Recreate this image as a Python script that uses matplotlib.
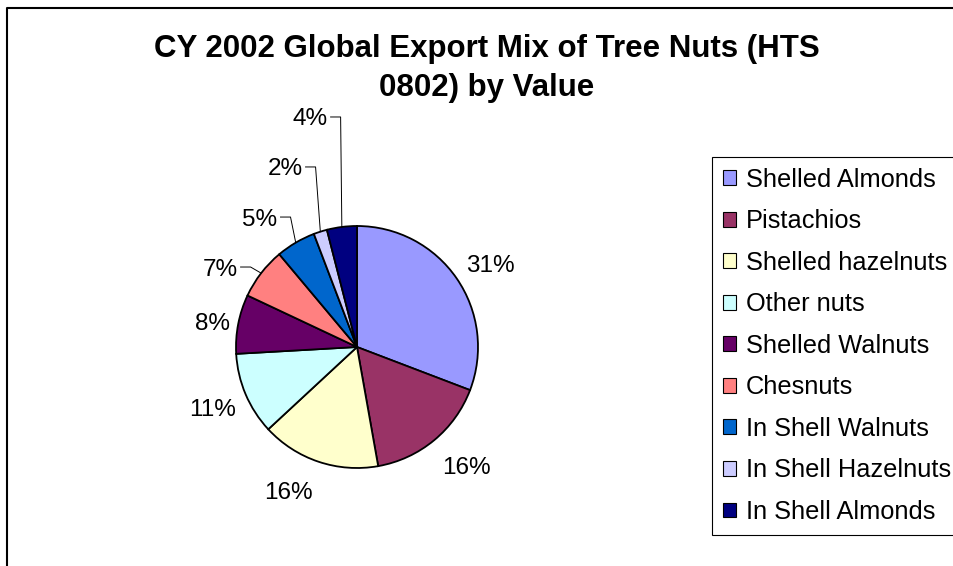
import matplotlib
matplotlib.use("Agg")
import matplotlib.pyplot as plt
from matplotlib.patches import Patch
from matplotlib.lines import Line2D
import numpy as np

# Export mix by value (percent of total), CY 2002, HTS 0802
categories = ["Shelled Almonds", "Pistachios", "Shelled hazelnuts", "Other nuts",
              "Shelled Walnuts", "Chesnuts", "In Shell Walnuts", "In Shell Hazelnuts",
              "In Shell Almonds"]
shares = [30.8, 16.4, 15.9, 11.0, 7.9, 6.9, 5.3, 1.8, 4.0]
title_lines = ["CY 2002 Global Export Mix of Tree Nuts (HTS", "0802) by Value"]

colors = ["#9999FF", "#993366", "#FFFFCC", "#CCFFFF", "#660066",
          "#FF8080", "#0066CC", "#CCCCFF", "#000080"]

plt.rcParams['font.family'] = ['Liberation Sans', 'DejaVu Sans']

W, H, DPI = 954, 566, 100
fig = plt.figure(figsize=(W / DPI, H / DPI), dpi=DPI)
fig.patch.set_facecolor('white')

# pie centre and radius in pixels; axes spans the whole canvas with 1 unit = 1 radius
cx, cy, R = 357, 347, 121
ax = fig.add_axes([0, 0, 1, 1])
wedges, _ = ax.pie(shares, colors=colors, startangle=90, counterclock=False, radius=1,
                   wedgeprops=dict(edgecolor='black', linewidth=1.3))
ax.set_xlim(-cx / R, (W - cx) / R)
ax.set_ylim(-(H - cy) / R, cy / R)
ax.set_aspect('auto')
ax.axis('off')

# label placement (in radii from the pie centre) and which labels get leader lines
label_pos = [(1.099, 0.694), (0.901, -0.983), (-0.570, -1.182), (-1.190, -0.504),
             (-1.198, 0.207), (-1.132, 0.661), (-0.802, 1.074), (-0.595, 1.488),
             (-0.388, 1.901)]
leader = [False, False, False, False, False, True, True, True, True]

total = sum(shares)
texts = []
for v, (lx, ly) in zip(shares, label_pos):
    t = ax.text(lx, ly, f"{round(100 * v / total)}%", ha='center', va='center_baseline',
                fontsize=17.5, color='black')
    texts.append(t)

fig.canvas.draw()
renderer = fig.canvas.get_renderer()
inv = ax.transData.inverted()
px = 1.0 / R
for t, w, use, (lx, ly) in zip(texts, wedges, leader, label_pos):
    if not use:
        continue
    bb = t.get_window_extent(renderer)
    x_right = inv.transform((bb.x1, bb.y0))[0]
    mid = np.deg2rad((w.theta1 + w.theta2) / 2)
    ex, ey = np.cos(mid), np.sin(mid)
    x0 = x_right + 3 * px
    x1 = x0 + 10 * px
    ax.add_line(Line2D([x0, x1, ex], [ly, ly, ey], color='black', lw=0.7))

# title
fig.text(487 / W, 1 - 57 / H, title_lines[0], ha='center', va='baseline',
         fontsize=22.5, fontweight='bold')
fig.text(487 / W, 1 - 96 / H, title_lines[1], ha='center', va='baseline',
         fontsize=22.5, fontweight='bold')

# legend
handles = [Patch(facecolor=c, edgecolor='black', linewidth=0.8) for c in colors]
leg = fig.legend(handles, categories, loc='upper left',
                 bbox_to_anchor=(712 / W, 1 - 157 / H), bbox_transform=fig.transFigure,
                 borderaxespad=0, frameon=True, fancybox=False, edgecolor='black',
                 fontsize=18.3, handlelength=0.52, handleheight=0.52,
                 handletextpad=0.4, labelspacing=0.69, borderpad=0.42)
leg.get_frame().set_linewidth(0.8)
leg.get_frame().set_alpha(1)

# chart area border (left and top edges)
fig.add_artist(Line2D([7.5 / W, 7.5 / W, 1], [0, 1 - 7.5 / H, 1 - 7.5 / H],
                      transform=fig.transFigure, color='black', lw=1.5))

fig.savefig('out.png', dpi=DPI)
